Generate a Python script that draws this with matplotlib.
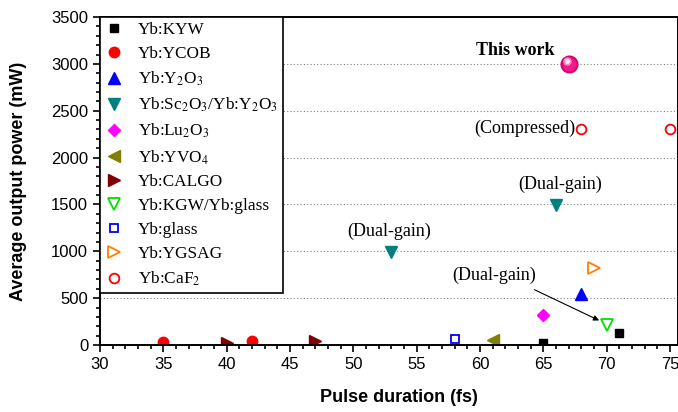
import matplotlib
matplotlib.use("Agg")
import matplotlib.pyplot as plt
import matplotlib.transforms as mtransforms
from matplotlib.ticker import MultipleLocator

plt.rcParams['mathtext.fontset'] = 'stix'

# data (pulse duration fs, power mW)
kyw_x, kyw_y = [65, 71], [25, 125]
ycob_x, ycob_y = [35, 42], [30, 40]
y2o3_x, y2o3_y = [68], [545]
sc2o3_x, sc2o3_y = [53, 66], [990, 1490]
lu2o3_x, lu2o3_y = [65], [320]
yvo4_x, yvo4_y = [61], [55]
calgo_x, calgo_y = [40, 47], [20, 40]
kgw_x, kgw_y = [70], [210]
glass_x, glass_y = [58], [65]
ygsag_x, ygsag_y = [69], [820]
caf2_x, caf2_y = [68, 75], [2300, 2300]
this_x, this_y = [67], [3000]

serif = 'Liberation Serif'
sans = 'Liberation Sans'

fig = plt.figure(figsize=(6.78, 4.12), dpi=100)
ax = fig.add_axes([0.1475, 0.1626, 0.852, 0.7961])

ax.plot(kyw_x, kyw_y, 's', color='black', ms=6, ls='none', label='Yb:KYW')
ax.plot(ycob_x, ycob_y, 'o', color='red', ms=7.5, ls='none', label='Yb:YCOB')
ax.plot(y2o3_x, y2o3_y, '^', color='blue', ms=8, ls='none', label='Yb:Y$_2$O$_3$')
ax.plot(sc2o3_x, sc2o3_y, 'v', color='#008080', ms=8, ls='none',
        label='Yb:Sc$_2$O$_3$/Yb:Y$_2$O$_3$')
ax.plot(lu2o3_x, lu2o3_y, 'D', color='#ff00ff', ms=6.5, ls='none', label='Yb:Lu$_2$O$_3$')
ax.plot(yvo4_x, yvo4_y, '<', color='#808000', ms=8, ls='none', label='Yb:YVO$_4$')
ax.plot(calgo_x, calgo_y, '>', color='#800000', ms=8, ls='none', label='Yb:CALGO')
ax.plot(kgw_x, kgw_y, 'v', mfc='none', mec='#00e000', mew=1.3, ms=8, ls='none',
        label='Yb:KGW/Yb:glass')
ax.plot(glass_x, glass_y, 's', mfc='none', mec='blue', mew=1.3, ms=6, ls='none',
        label='Yb:glass')
ax.plot(ygsag_x, ygsag_y, '>', mfc='none', mec='#ff8000', mew=1.3, ms=8, ls='none',
        label='Yb:YGSAG')
ax.plot(caf2_x, caf2_y, 'o', mfc='none', mec='red', mew=1.3, ms=7, ls='none',
        label='Yb:CaF$_2$')

# "this work" ball with a highlight
ax.plot(this_x, this_y, 'o', color='#d6006f', ms=12, zorder=5)
ax.plot(this_x, this_y, 'o', color='#ee1b8a', ms=9, zorder=6)
hl = ax.transData + mtransforms.ScaledTranslation(-1.5/72, 1.8/72, fig.dpi_scale_trans)
ax.plot(this_x, this_y, 'o', color='#f78cc2', ms=5, zorder=7, transform=hl)
ax.plot(this_x, this_y, 'o', color='#fde6f2', ms=2.5, zorder=8, transform=hl)

ax.text(62.8, 3140, 'This work', family=serif, fontsize=13, fontweight='bold',
        ha='center', va='center')
ax.text(63.5, 2310, '(Compressed)', family=serif, fontsize=13, ha='center', va='center')
ax.text(66.3, 1710, '(Dual-gain)', family=serif, fontsize=13, ha='center', va='center')
ax.text(52.8, 1210, '(Dual-gain)', family=serif, fontsize=13, ha='center', va='center')
ax.text(61.1, 740, '(Dual-gain)', family=serif, fontsize=13, ha='center', va='center')
ax.annotate('', xy=(69.4, 262), xytext=(64.3, 590),
            arrowprops=dict(arrowstyle='-|>', color='black', lw=0.8,
                            mutation_scale=8, shrinkA=0, shrinkB=0))

ax.set_xlim(30, 75.6)
ax.set_ylim(0, 3500)
ax.xaxis.set_major_locator(MultipleLocator(5))
ax.xaxis.set_minor_locator(MultipleLocator(1))
ax.yaxis.set_major_locator(MultipleLocator(500))
ax.yaxis.set_minor_locator(MultipleLocator(100))
ax.tick_params(which='both', direction='out', width=1.2)
ax.tick_params(which='major', length=5, labelsize=12)
ax.tick_params(which='minor', length=3)
for lab in ax.get_xticklabels() + ax.get_yticklabels():
    lab.set_family(sans)
for sp in ax.spines.values():
    sp.set_linewidth(1.4)
ax.yaxis.grid(True, linestyle=(0, (1, 2)), color='gray', lw=0.8)
ax.set_axisbelow(True)

ax.set_xlabel('Pulse duration (fs)', family=sans, fontsize=13, fontweight='bold')
ax.xaxis.set_label_coords(0.517, -0.135)
ax.set_ylabel('Average output power (mW)', family=sans, fontsize=13, fontweight='bold')
ax.yaxis.set_label_coords(-0.126, 0.5)

leg = ax.legend(loc='upper left', prop={'family': serif, 'size': 12.4},
                frameon=True, fancybox=False, framealpha=1, edgecolor='black',
                borderaxespad=0, handlelength=1.0, handletextpad=0.9,
                labelspacing=0.45, borderpad=0.3)
leg.get_frame().set_linewidth(1.2)

fig.savefig('out.png', dpi=100)
